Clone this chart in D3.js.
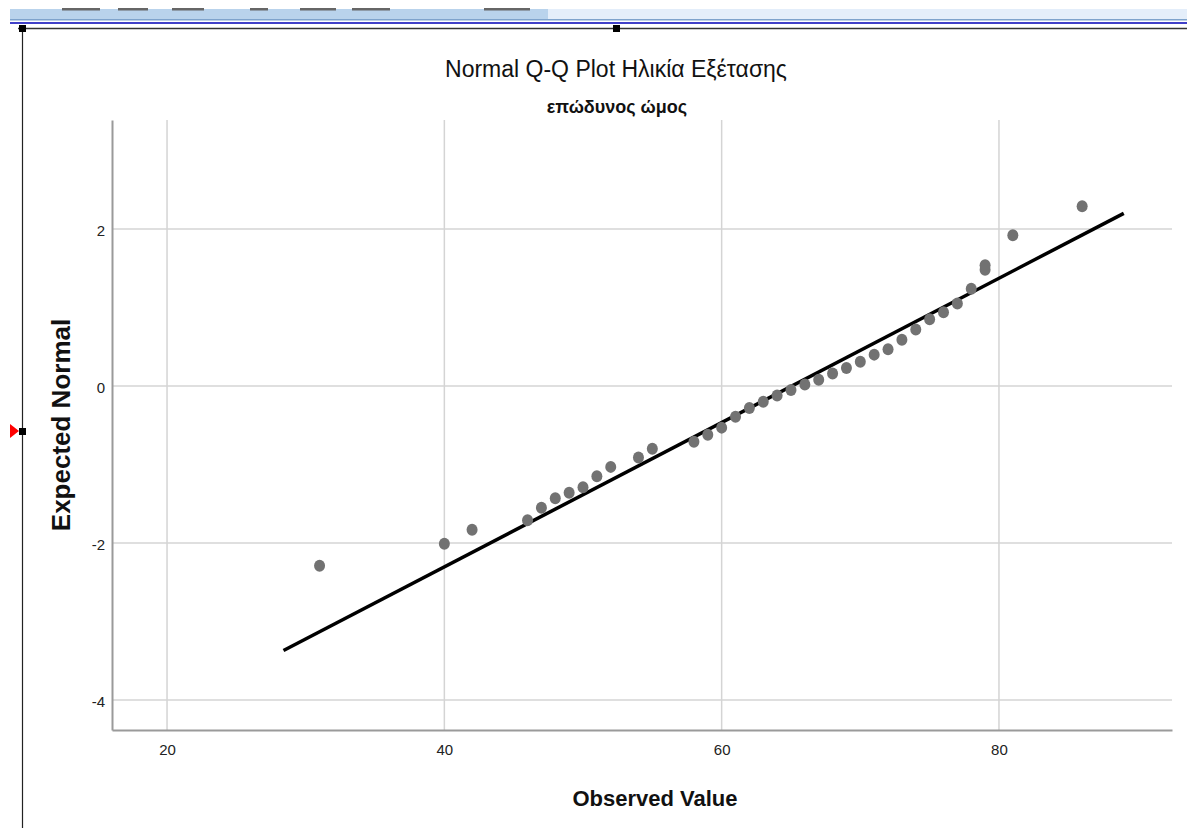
<html>
<script src='https://d3js.org/d3.v7.min.js'></script>
<style>
body {margin: 0; background: white;}
text {font-family: "Liberation Sans", Arial, sans-serif;}
</style>
<body>
<svg width=1187 height=828></svg>
<script>
// observed age values and the expected normal value for each case
var observed = [31, 40, 42, 46, 47, 48, 49, 50, 51, 52, 54, 55, 58, 59, 60, 61, 62, 63, 64, 65,
	66, 67, 68, 69, 70, 71, 72, 73, 74, 75, 76, 77, 78, 79, 79, 81, 86];
var expected = [-2.29, -2.01, -1.83, -1.71, -1.55, -1.43, -1.36, -1.29, -1.15, -1.03, -0.91, -0.80,
	-0.71, -0.62, -0.53, -0.39, -0.28, -0.20, -0.12, -0.05, 0.02, 0.08, 0.16, 0.23, 0.31, 0.40,
	0.47, 0.59, 0.72, 0.85, 0.94, 1.05, 1.24, 1.48, 1.54, 1.92, 2.29];
// the reference line, as its two end points
var lineX = [28.4, 89.0];
var lineY = [-3.37, 2.2];
var xTicks = [20, 40, 60, 80];
var yTicks = [-4, -2, 0, 2];

var svg = d3.select("svg");

// window chrome above the chart
svg.append("rect").attr("x", 10).attr("y", 9).attr("width", 538).attr("height", 11).attr("fill", "#b9d3ec");
svg.append("rect").attr("x", 548).attr("y", 9).attr("width", 639).attr("height", 11).attr("fill", "#e4eefa");
[[62, 38], [118, 30], [172, 32], [250, 18], [300, 36], [352, 38], [484, 46]].forEach(function(b) {
	svg.append("rect").attr("x", b[0]).attr("y", 8).attr("width", b[1]).attr("height", 2.5).attr("fill", "#666");
});
svg.append("rect").attr("x", 10).attr("y", 19).attr("width", 1177).attr("height", 1.5).attr("fill", "#7ea3cc");
svg.append("rect").attr("x", 10).attr("y", 22).attr("width", 1177).attr("height", 2).attr("fill", "#4040c8");
svg.append("line").attr("x1", 18).attr("x2", 1187).attr("y1", 28.5).attr("y2", 28.5).attr("stroke", "#333").attr("stroke-width", 1.5);
svg.append("line").attr("x1", 22.5).attr("x2", 22.5).attr("y1", 28).attr("y2", 828).attr("stroke", "#222").attr("stroke-width", 1.2);
svg.append("rect").attr("x", 19).attr("y", 25).attr("width", 7).attr("height", 7).attr("fill", "black");
svg.append("rect").attr("x", 613).attr("y", 25).attr("width", 7).attr("height", 7).attr("fill", "black");
svg.append("rect").attr("x", 19).attr("y", 428).attr("width", 7).attr("height", 7).attr("fill", "black");
svg.append("path").attr("d", "M10,424 L19,431 L10,438 Z").attr("fill", "red");

var x = d3.scaleLinear().domain([16.03, 92.48]).range([112, 1172]);
var y = d3.scaleLinear().domain([-4.382, 3.389]).range([730, 120]);

// grid
svg.append("g").selectAll("line").data(yTicks).enter().append("line")
	.attr("x1", 112).attr("x2", 1172)
	.attr("y1", d => y(d)).attr("y2", d => y(d))
	.attr("stroke", "#d4d4d4").attr("stroke-width", 1.5);
svg.append("g").selectAll("line").data(xTicks).enter().append("line")
	.attr("x1", d => x(d)).attr("x2", d => x(d))
	.attr("y1", 120).attr("y2", 730)
	.attr("stroke", "#d4d4d4").attr("stroke-width", 1.5);

// axes
var xAxis = svg.append("g").attr("transform", "translate(0,730)")
	.call(d3.axisBottom(x).tickValues(xTicks).tickSize(0).tickPadding(14));
var yAxis = svg.append("g").attr("transform", "translate(112,0)")
	.call(d3.axisLeft(y).tickValues(yTicks).tickSize(0).tickPadding(7).tickFormat(d3.format("d")));
[xAxis, yAxis].forEach(function(a) {
	a.select(".domain").attr("stroke", "#9a9a9a").attr("stroke-width", 2);
	a.selectAll("text").style("font-size", "15px").attr("fill", "#222")
		.style("font-family", "'Liberation Sans Narrow', 'Liberation Sans', Arial, sans-serif");
});
yAxis.selectAll("text").text(d => d < 0 ? "-" + Math.abs(d) : d).attr("dy", "0.4em");

// fit line
svg.append("line")
	.attr("x1", x(lineX[0])).attr("y1", y(lineY[0]))
	.attr("x2", x(lineX[1])).attr("y2", y(lineY[1]))
	.attr("stroke", "black").attr("stroke-width", 3.5);

// points
svg.append("g").selectAll("ellipse").data(observed).enter().append("ellipse")
	.attr("cx", d => x(d))
	.attr("cy", (d, i) => y(expected[i]))
	.attr("rx", 5.5).attr("ry", 6)
	.attr("fill", "#727272");

// titles
svg.append("text").attr("x", 616).attr("y", 77).attr("text-anchor", "middle")
	.style("font-size", "23px").attr("fill", "#111").text("Normal Q-Q Plot Ηλικία Εξέτασης");
svg.append("text").attr("x", 617).attr("y", 113).attr("text-anchor", "middle")
	.style("font-size", "18px").style("font-weight", "bold").attr("fill", "#111").text("επώδυνος ώμος");
svg.append("text").attr("transform", "translate(70,425) rotate(-90)").attr("text-anchor", "middle")
	.style("font-size", "26px").style("font-weight", "bold").attr("fill", "#111").text("Expected Normal");
svg.append("text").attr("x", 655).attr("y", 806).attr("text-anchor", "middle")
	.style("font-size", "22px").attr("fill", "#111")
	.style("font-family", "'Liberation Sans Narrow', 'Liberation Sans', Arial, sans-serif")
	.style("font-weight", "bold").text("Observed Value");
</script>
</body>
</html>
